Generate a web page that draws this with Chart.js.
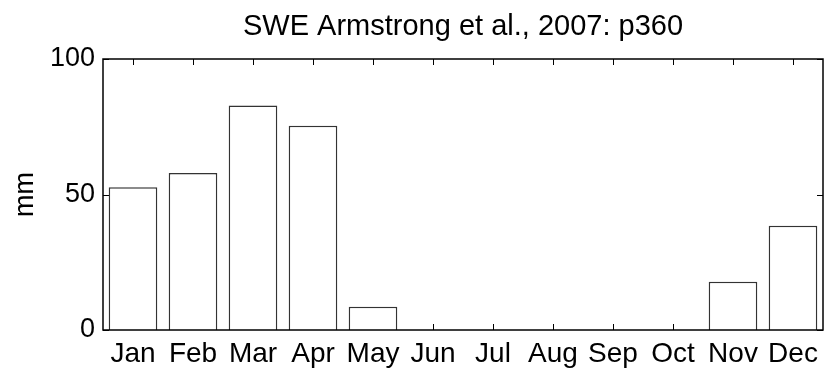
<!DOCTYPE html>
<html>
<head>
<meta charset="utf-8">
<script src="https://cdn.jsdelivr.net/npm/chart.js@4.4.0/dist/chart.umd.min.js"></script>
<style>
  html, body { margin: 0; padding: 0; background: #fff; }
  #wrap { width: 831px; height: 371px; }
</style>
</head>
<body>
<div id="wrap"><canvas id="myChart" width="831" height="371"></canvas></div>
<script>
// monthly SWE values (mm)
const months = ['Jan', 'Feb', 'Mar', 'Apr', 'May', 'Jun', 'Jul', 'Aug', 'Sep', 'Oct', 'Nov', 'Dec'];
const swe = [52.7, 57.9, 82.8, 75.4, 8.6, 0, 0, 0, 0, 0, 17.8, 38.5];
const yTicks = [0, 50, 100];
const titleText = 'SWE Armstrong et al., 2007: p360';

const FONT = 'Liberation Sans, Arial, Helvetica, sans-serif';

// matlab-ish inward tick marks (under the bars), box + title centred on the axes
const axesDeco = {
  id: 'axesDeco',
  beforeDatasetsDraw(chart) {
    const ctx = chart.ctx;
    const a = chart.chartArea;
    const xs = chart.scales.x, ys = chart.scales.y;
    const len = 6;
    ctx.save();
    ctx.strokeStyle = '#000';
    ctx.lineWidth = 1;
    ctx.beginPath();
    months.forEach((m, i) => {
      const px = Math.round(xs.getPixelForValue(i)) + 0.5;
      ctx.moveTo(px, a.top); ctx.lineTo(px, a.top + len);
      ctx.moveTo(px, a.bottom); ctx.lineTo(px, a.bottom - len);
    });
    yTicks.forEach(v => {
      const py = Math.round(ys.getPixelForValue(v)) + 0.5;
      ctx.moveTo(a.left, py); ctx.lineTo(a.left + len, py);
      ctx.moveTo(a.right, py); ctx.lineTo(a.right - len, py);
    });
    ctx.stroke();
    ctx.restore();
  },
  afterDraw(chart) {
    const ctx = chart.ctx;
    const a = chart.chartArea;
    ctx.save();
    ctx.strokeStyle = '#000';
    ctx.lineWidth = 1.5;
    ctx.strokeRect(a.left, a.top, a.right - a.left, a.bottom - a.top);
    ctx.fillStyle = '#000';
    ctx.font = '29px ' + FONT;
    ctx.textAlign = 'center';
    ctx.textBaseline = 'middle';
    ctx.fillText(titleText, (a.left + a.right) / 2, 27);
    ctx.restore();
  }
};

new Chart(document.getElementById('myChart').getContext('2d'), {
  type: 'bar',
  data: {
    labels: months,
    datasets: [{
      data: swe,
      backgroundColor: '#fff',
      borderColor: '#333',
      borderWidth: 1.5,
      barPercentage: 0.81,
      categoryPercentage: 1.0
    }]
  },
  options: {
    responsive: false,
    animation: false,
    devicePixelRatio: 1,
    layout: { padding: { left: 0, right: 8, top: 59, bottom: 0 } },
    plugins: {
      legend: { display: false },
      tooltip: { enabled: false },
      title: { display: false }
    },
    scales: {
      x: {
        grid: { display: false, drawTicks: false },
        border: { display: false },
        ticks: {
          color: '#000',
          font: { family: FONT, size: 28 },
          padding: 7,
          maxRotation: 0,
          autoSkip: false
        },
        afterFit(scale) { scale.height = 41; }
      },
      y: {
        min: 0,
        max: 100,
        grid: { display: false, drawTicks: false },
        border: { display: false },
        ticks: {
          stepSize: 50,
          color: '#000',
          font: { family: FONT, size: 27 },
          padding: 8
        },
        title: {
          display: true,
          text: 'mm',
          color: '#000',
          font: { family: FONT, size: 27 },
          padding: { top: 9, bottom: 0 }
        },
        afterFit(scale) { scale.width = 103; }
      }
    }
  },
  plugins: [axesDeco]
});
</script>
</body>
</html>
